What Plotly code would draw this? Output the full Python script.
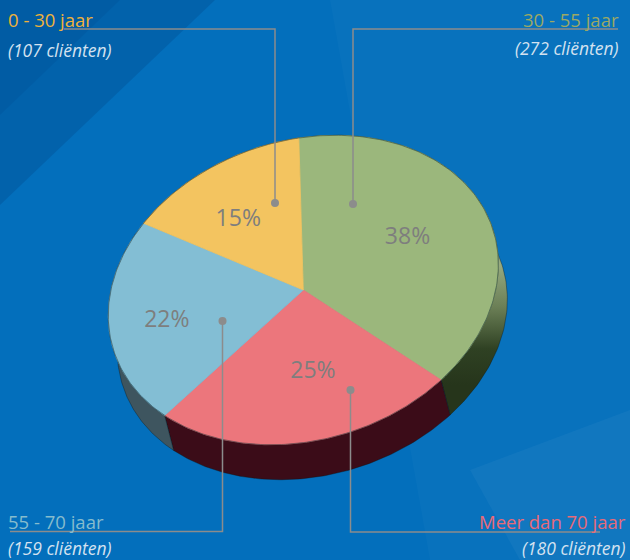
import numpy as np
import plotly.graph_objects as go

# ---------------- data ----------------
categories = ["0 - 30 jaar", "30 - 55 jaar", "55 - 70 jaar", "Meer dan 70 jaar"]
clients = [107, 272, 159, 180]
# clockwise order of the slices starting at 12 o'clock
slice_order = ["30 - 55 jaar", "Meer dan 70 jaar", "55 - 70 jaar", "0 - 30 jaar"]

# ---------------- style ----------------
top_colors = {"0 - 30 jaar": "#f3c460", "30 - 55 jaar": "#9bb77c",
              "55 - 70 jaar": "#83bed4", "Meer dan 70 jaar": "#ec767c"}
side_colors = {"0 - 30 jaar": "#6b5424", "30 - 55 jaar": "#27361c",
               "55 - 70 jaar": "#3e555f", "Meer dan 70 jaar": "#3b0c18"}
title_colors = {"0 - 30 jaar": "#efb23a", "30 - 55 jaar": "#9ba865",
                "55 - 70 jaar": "#86bccd", "Meer dan 70 jaar": "#e86a78"}

W, H = 630, 560
CX, CY = 303.3, 290.0                 # pie centre (axis units = px)
A = np.array([[195.0, -4.5], [-29.0, -152.0]])   # projection of the tilted disc
DEPTH = (9.0, 35.0)                   # extrusion of the 3D side
LABEL_R = 0.62
label_nudge = {"0 - 30 jaar": (-8, 6), "30 - 55 jaar": (-7, 0),
               "55 - 70 jaar": (-16, 8), "Meer dan 70 jaar": (10, -12)}
# leader-line anchors (dot) and text rows
leader = {
    "0 - 30 jaar":      dict(dot=(275, 203), row=29,  end=64,  side="left"),
    "30 - 55 jaar":     dict(dot=(353, 204), row=29,  end=618, side="right"),
    "55 - 70 jaar":     dict(dot=(222.5, 321), row=531.5, end=10, side="left"),
    "Meer dan 70 jaar": dict(dot=(350.5, 390), row=532, end=600, side="right"),
}
text_pos = {
    "0 - 30 jaar":      dict(x=6,   y1=19.5, y2=49.5, anchor="left"),
    "30 - 55 jaar":     dict(x=621, y1=19.5, y2=47.5, anchor="right"),
    "55 - 70 jaar":     dict(x=6,   y1=521,  y2=547.5, anchor="left"),
    "Meer dan 70 jaar": dict(x=628, y1=521.5, y2=548, anchor="right"),
}
FONT = "Open Sans"


def proj(phi, r=1.0, shift=(0.0, 0.0)):
    s, c = np.sin(phi), np.cos(phi)
    x = CX + r * (A[0, 0] * s + A[0, 1] * c) + shift[0]
    y = CY + r * (A[1, 0] * s + A[1, 1] * c) + shift[1]
    return x, y


total = float(sum(clients))
value_of = dict(zip(categories, clients))
fracs = [value_of[k] / total for k in slice_order]
bounds = np.concatenate([[0.0], np.cumsum(fracs)]) * 2 * np.pi

fig = go.Figure()

# background facets (decoration)
bg_shapes = [
    dict(type="path", path="M0,0 L215,0 L0,205 Z", fillcolor="rgba(0,30,90,0.16)", line_width=0, layer="below"),
    dict(type="path", path="M0,0 L120,0 L0,115 Z", fillcolor="rgba(0,30,90,0.08)", line_width=0, layer="below"),
    dict(type="path", path="M330,0 L630,0 L630,560 L430,560 Z", fillcolor="rgba(255,255,255,0.025)", line_width=0, layer="below"),
    dict(type="path", path="M470,470 L630,410 L630,560 L520,560 Z", fillcolor="rgba(255,255,255,0.04)", line_width=0, layer="below"),
]

# sides
for i, key in enumerate(slice_order):
    ph = np.linspace(bounds[i], bounds[i + 1], 120)
    xt, yt = proj(ph)
    xb, yb = proj(ph[::-1], shift=DEPTH)
    xs = np.concatenate([xt, xb, xt[:1]])
    ys = np.concatenate([yt, yb, yt[:1]])
    kw = dict(fillcolor=side_colors[key])
    if key == "30 - 55 jaar":
        kw = dict(fillgradient=dict(type="vertical", start=265, stop=385,
                                    colorscale=[[0, "#97aa80"], [0.35, "#6b7f56"],
                                                [0.7, "#2f4123"], [1, "#26351b"]]))
    fig.add_trace(go.Scatter(x=xs, y=ys, mode="lines", fill="toself",
                             line=dict(width=0.6, color="rgba(10,20,20,0.6)"),
                             hoverinfo="skip", showlegend=False, **kw))

# top faces
for i, key in enumerate(slice_order):
    ph = np.linspace(bounds[i], bounds[i + 1], 160)
    xa, ya = proj(ph)
    xs = np.concatenate([[CX], xa, [CX]])
    ys = np.concatenate([[CY], ya, [CY]])
    fig.add_trace(go.Scatter(x=xs, y=ys, mode="lines", fill="toself",
                             fillcolor=top_colors[key],
                             line=dict(width=0.8, color=top_colors[key]),
                             hoverinfo="skip", showlegend=False))

# rim outline
ph = np.linspace(0, 2 * np.pi, 400)
xo, yo = proj(ph)
fig.add_trace(go.Scatter(x=xo, y=yo, mode="lines", line=dict(width=1, color="rgba(20,40,40,0.45)"),
                         hoverinfo="skip", showlegend=False))

# percentage labels
for i, key in enumerate(slice_order):
    mid = 0.5 * (bounds[i] + bounds[i + 1])
    lx, ly = proj(mid, r=LABEL_R)
    nx, ny = label_nudge[key]
    pct = f"{round(100 * value_of[key] / total)}%"
    fig.add_trace(go.Scatter(x=[lx + nx], y=[ly + ny], mode="text", text=[pct],
                             textfont=dict(family=FONT, size=23, color="#7e7e7e"),
                             textposition="middle center", hoverinfo="skip", showlegend=False))

# leader lines
for key in categories:
    L = leader[key]
    dx, dy = L["dot"]
    fig.add_trace(go.Scatter(x=[L["end"], dx, dx], y=[L["row"], L["row"], dy], mode="lines",
                             line=dict(color="#8c8c8c", width=1.5),
                             hoverinfo="skip", showlegend=False))
    fig.add_trace(go.Scatter(x=[dx], y=[dy], mode="markers",
                             marker=dict(size=8, color="#8c8c8c"),
                             hoverinfo="skip", showlegend=False))

# category texts
annotations = []
for key in categories:
    T = text_pos[key]
    annotations.append(dict(x=T["x"], y=T["y1"], xref="x", yref="y", text=key, showarrow=False,
                            xanchor=T["anchor"], yanchor="middle",
                            font=dict(family=FONT, size=18.5, color=title_colors[key])))
    annotations.append(dict(x=T["x"], y=T["y2"], xref="x", yref="y",
                            text=f"<i>({value_of[key]} cliënten)</i>", showarrow=False,
                            xanchor=T["anchor"], yanchor="middle",
                            font=dict(family=FONT, size=17.5, color="#d4e2f0")))

fig.update_layout(
    width=W, height=H, margin=dict(l=0, r=0, t=0, b=0),
    paper_bgcolor="#036fbc", plot_bgcolor="#036fbc",
    xaxis=dict(range=[0, W], visible=False, fixedrange=True),
    yaxis=dict(range=[H, 0], visible=False, fixedrange=True),
    shapes=bg_shapes, annotations=annotations, showlegend=False,
)

fig.write_html("out.html")
